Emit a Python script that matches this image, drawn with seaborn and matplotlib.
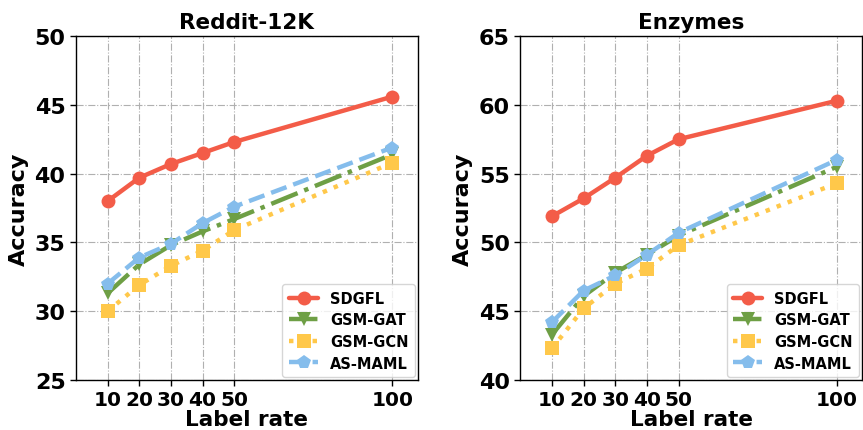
import pandas as pd
import seaborn as sns
import matplotlib.pyplot as plt

# data
label_rate = [10, 20, 30, 40, 50, 100]
methods = ["SDGFL", "GSM-GAT", "GSM-GCN", "AS-MAML"]

reddit_sdgfl = [38.0, 39.7, 40.7, 41.5, 42.3, 45.6]
reddit_gat = [31.3, 33.4, 34.8, 35.8, 36.7, 41.4]
reddit_gcn = [30.0, 31.9, 33.3, 34.4, 35.9, 40.8]
reddit_asmaml = [32.0, 33.9, 34.9, 36.4, 37.6, 41.9]

enz_sdgfl = [51.9, 53.2, 54.7, 56.3, 57.5, 60.3]
enz_gat = [43.3, 46.1, 47.8, 49.1, 50.5, 55.5]
enz_gcn = [42.3, 45.2, 47.0, 48.1, 49.8, 54.3]
enz_asmaml = [44.2, 46.5, 47.6, 49.1, 50.7, 56.0]

colors = ["#F35C48", "#6E9F45", "#FFC84A", "#85BDEC"]
markers = ["o", "v", "s", "p"]
linestyles = ["-", "-.", ":", "--"]

panels = [
    ("Reddit-12K", [reddit_sdgfl, reddit_gat, reddit_gcn, reddit_asmaml], (25, 50)),
    ("Enzymes", [enz_sdgfl, enz_gat, enz_gcn, enz_asmaml], (40, 65)),
]

sns.set_style("ticks")
plt.rcParams["font.family"] = ["DejaVu Sans"]
plt.rcParams["font.weight"] = "bold"
plt.rcParams["text.color"] = "black"
plt.rcParams["axes.labelcolor"] = "black"
plt.rcParams["xtick.color"] = "black"
plt.rcParams["ytick.color"] = "black"

fig, axes = plt.subplots(1, 2, figsize=(8.63, 4.31), dpi=100)
fig.subplots_adjust(left=0.088, right=0.999, top=0.914, bottom=0.116, wspace=0.3)

for ax, (title, series, ylim) in zip(axes, panels):
    for name, vals, c, m, ls in zip(methods, series, colors, markers, linestyles):
        df = pd.DataFrame({"rate": label_rate, "acc": vals})
        sns.lineplot(data=df, x="rate", y="acc", ax=ax, color=c, marker=m,
                     linestyle=ls, linewidth=3.2, markersize=10,
                     markeredgewidth=0, label=name)
    ax.set_xlim(0, 108)
    ax.set_ylim(*ylim)
    ax.set_xticks(label_rate)
    ax.set_yticks(range(ylim[0], ylim[1] + 1, 5))
    ax.tick_params(axis="x", labelsize=14.5, length=4, width=1, pad=3)
    ax.tick_params(axis="y", labelsize=16, length=4, width=1)
    for lab in ax.get_xticklabels() + ax.get_yticklabels():
        lab.set_fontweight("bold")
    ax.grid(True, linestyle="-.", color="#b0b0b0", linewidth=0.8)
    ax.set_axisbelow(True)
    for sp in ax.spines.values():
        sp.set_color("black")
        sp.set_linewidth(1)
    ax.set_title(title, fontsize=15.5, fontweight="bold")
    ax.set_xlabel("Label rate", fontsize=15.5, fontweight="bold", labelpad=0)
    ax.set_ylabel("Accuracy", fontsize=16, fontweight="bold")
    leg = ax.legend(loc="lower right", prop={"weight": "bold", "size": 10.5},
                    handlelength=2.0, borderpad=0.45, labelspacing=0.45,
                    borderaxespad=0.2)
    leg.get_frame().set_edgecolor("#cccccc")

fig.savefig("out.png", dpi=100)
